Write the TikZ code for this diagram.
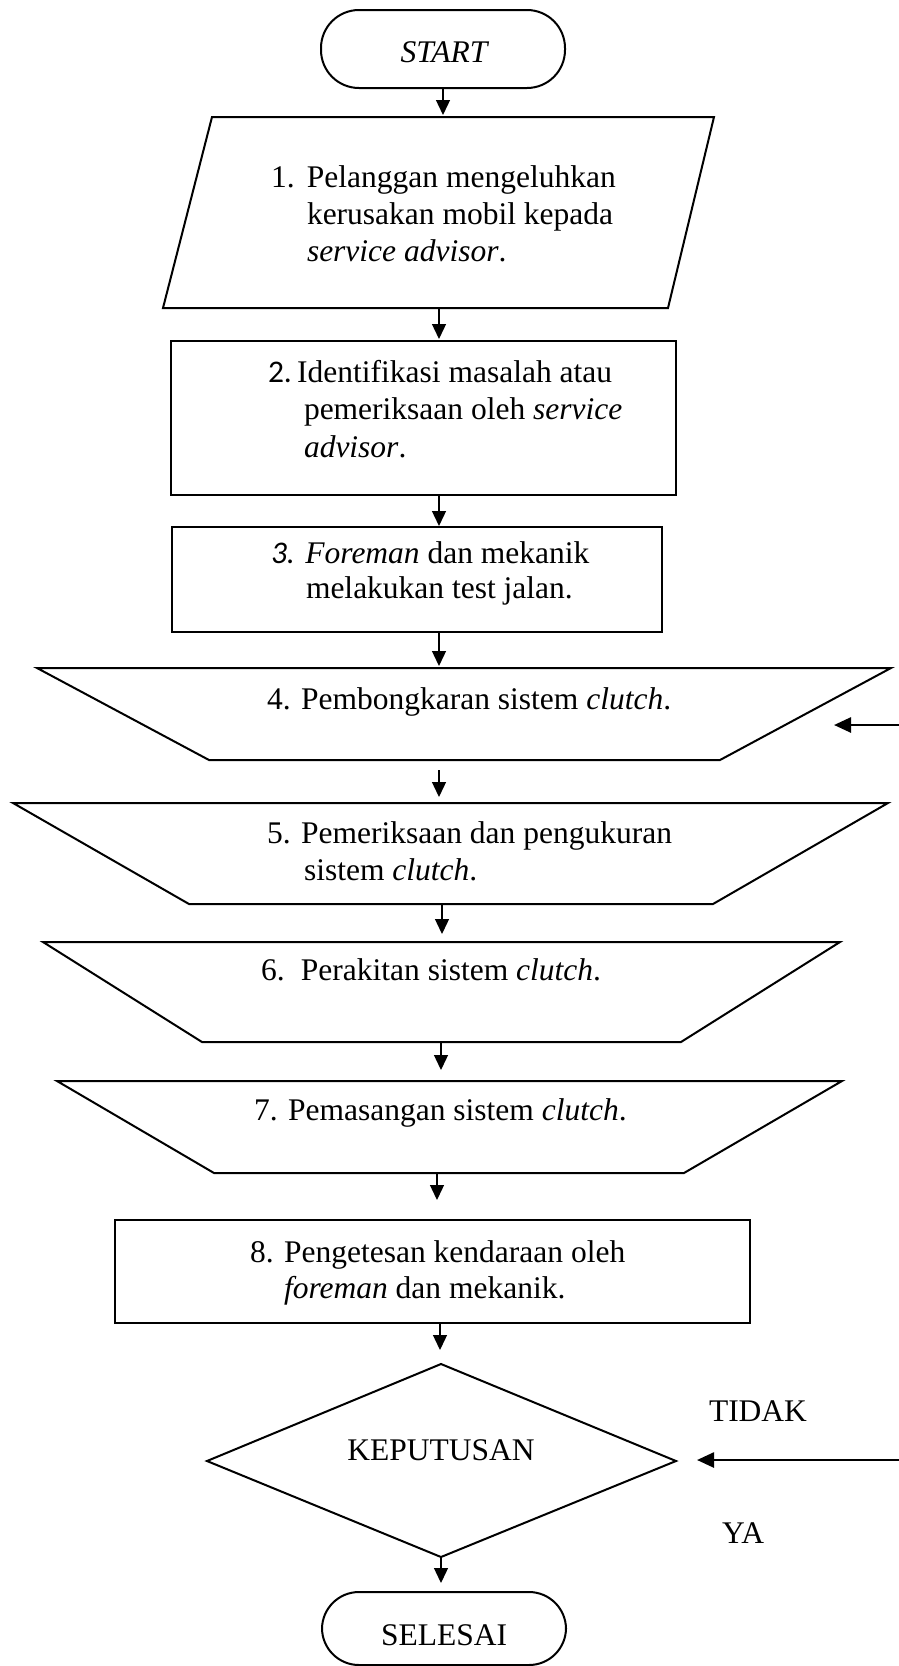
\documentclass[tikz,border=0pt]{standalone}
\usepackage{fontspec}
\setmainfont{Liberation Serif}
\newfontfamily\calibrifont{Carlito}
\usetikzlibrary{arrows.meta}
\begin{document}
\begin{tikzpicture}[x=1pt,y=-1pt,
  outline/.style={draw=black,line width=2pt,line join=miter},
  conn/.style={draw=black,line width=1.3pt,-{Triangle[length=15pt,width=14pt]}},
  backconn/.style={draw=black,line width=2.6pt,-{Triangle[length=17pt,width=15pt]}},
  txt/.style={inner sep=0pt,outer sep=0pt,anchor=base west,font=\fontsize{31.5}{37}\selectfont},
  ctxt/.style={inner sep=0pt,outer sep=0pt,anchor=base,font=\fontsize{31.5}{37}\selectfont}]
\useasboundingbox (0,0) rectangle (899,1666);

% ---------- shapes ----------
% START
\draw[outline,rounded corners=38pt] (321,10) rectangle (565,88);
\coordinate (s0b) at (443,88);
% 1 parallelogram
\draw[outline] (212,117) -- (714,117) -- (668,308) -- (163,308) -- cycle;
\coordinate (s1t) at (443,115);
\coordinate (s1b) at (439,308);
% 2 box
\draw[outline] (171,341) rectangle (676,495);
\coordinate (s2t) at (439,339);
\coordinate (s2b) at (439,495);
% 3 box
\draw[outline] (172,527) rectangle (662,632);
\coordinate (s3t) at (439,526);
\coordinate (s3b) at (439,632);
% 4 trapezoid
\draw[outline] (37,668) -- (891,668) -- (720,760) -- (209,760) -- cycle;
\coordinate (s4t) at (439,666);
\coordinate (s4b) at (439,770);
% 5 trapezoid
\draw[outline] (13,803) -- (888,803) -- (713,904) -- (189,904) -- cycle;
\coordinate (s5t) at (439,797);
\coordinate (s5b) at (442,904);
% 6 trapezoid
\draw[outline] (43,942) -- (840,942) -- (681,1042) -- (202,1042) -- cycle;
\coordinate (s6t) at (442,934);
\coordinate (s6b) at (441,1042);
% 7 trapezoid
\draw[outline] (57,1081) -- (842,1081) -- (684,1173) -- (214,1173) -- cycle;
\coordinate (s7t) at (441,1070);
\coordinate (s7b) at (437,1173);
% 8 box
\draw[outline] (115,1220) rectangle (750,1323);
\coordinate (s8t) at (437,1200);
\coordinate (s8b) at (440,1323);
% decision diamond
\draw[outline] (441,1364) -- (676,1461) -- (441,1557) -- (207,1461) -- cycle;
\coordinate (dt) at (440,1350);
\coordinate (dr) at (697,1460);
\coordinate (db) at (441,1557);
% SELESAI
\draw[outline,rounded corners=37pt] (322,1592) rectangle (566,1665);
\coordinate (s9t) at (441,1583);

% ---------- texts ----------
\node[ctxt] (tstart) at (444,62) {\itshape START};
\node[txt] (t1a) at (271,187) {\makebox[36pt][l]{1.}Pelanggan mengeluhkan};
\node[txt] (t1b) at (307,224) {kerusakan mobil kepada};
\node[txt] (t1c) at (307,261) {\itshape service advisor\upshape.};
\node[txt] (t2a) at (268,382) {{\calibrifont 2.}\,Identifikasi masalah atau};
\node[txt] (t2b) at (304,419) {pemeriksaan oleh \textit{service}};
\node[txt] (t2c) at (304,457) {\textit{advisor}.};
\node[txt] (t3a) at (271,563) {{\calibrifont\itshape 3.} \textit{Foreman} dan mekanik};
\node[txt] (t3b) at (306,598) {melakukan test jalan.};
\node[txt] (t4) at (267,709) {4. Pembongkaran sistem \textit{clutch}.};
\node[txt] (t5a) at (267,843) {5. Pemeriksaan dan pengukuran};
\node[txt] (t5b) at (304,880) {sistem \textit{clutch}.};
\node[txt] (t6) at (261,980) {\makebox[40pt][l]{6.}Perakitan sistem \textit{clutch}.};
\node[txt] (t7) at (254,1120) {7. Pemasangan sistem \textit{clutch}.};
\node[txt] (t8a) at (250,1262) {8. Pengetesan kendaraan oleh};
\node[txt] (t8b) at (284,1298) {\textit{foreman} dan mekanik.};
\node[ctxt] (tkep) at (441,1460) {KEPUTUSAN};
\node[txt] (ttidak) at (709,1421) {TIDAK};
\node[txt] (tya) at (722,1543) {YA};
\node[ctxt] (tsel) at (444,1645) {SELESAI};

% ---------- connectors ----------
\draw[conn] (s0b) -- (s1t);
\draw[conn] (s1b) -- (s2t);
\draw[conn] (s2b) -- (s3t);
\draw[conn] (s3b) -- (s4t);
\draw[conn] (s4b) -- (s5t);
\draw[conn] (s5b) -- (s6t);
\draw[conn] (s6b) -- (s7t);
\draw[conn] (s7b) -- (s8t);
\draw[conn] (s8b) -- (dt);
\draw[conn] (db) -- (s9t);
\coordinate (r4s) at (899,725);
\coordinate (r4e) at (834,725);
\draw[backconn] (r4s) -- (r4e);
\coordinate (rds) at (899,1460);
\draw[backconn] (rds) -- (dr);
\end{tikzpicture}
\end{document}
